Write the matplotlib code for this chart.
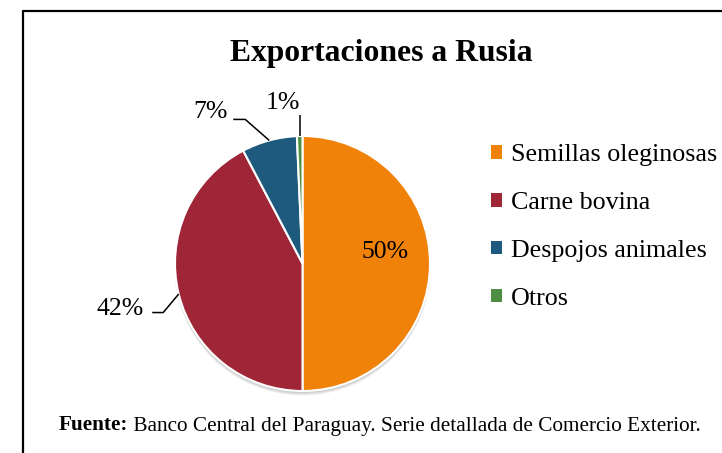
import matplotlib
matplotlib.use('Agg')
import matplotlib.pyplot as plt
from matplotlib.patches import Patch, Circle
import numpy as np

# ---- data ----
categories = ['Semillas oleginosas', 'Carne bovina', 'Despojos animales', 'Otros']
values = [50.0, 42.3, 7.0, 0.7]
pct_labels = ['50%', '42%', '7%', '1%']
colors = ['#F0820A', '#9E2637', '#1D5A7E', '#4E8E42']
title = 'Exportaciones a Rusia'
source_bold = 'Fuente:'
source_text = ' Banco Central del Paraguay. Serie detallada de Comercio Exterior.'

W, H = 722, 453
plt.rcParams['font.family'] = ['Liberation Serif', 'DejaVu Serif']
fig = plt.figure(figsize=(W / 100, H / 100), dpi=100)
ax = fig.add_axes([0, 0, 1, 1])

cx, cy, R = 302.5, H - 263.5, 127.5

# soft shadow beneath the pie
for i in range(4):
    ax.add_patch(Circle((cx, cy - 1.0 - i), R + 0.5, color='black', alpha=0.06,
                        lw=0, zorder=0))

wedges, _ = ax.pie(values, colors=colors, startangle=90, counterclock=False,
                   center=(cx, cy), radius=R,
                   wedgeprops=dict(edgecolor='white', linewidth=1.5))
ax.set_xlim(0, W)
ax.set_ylim(0, H)
ax.set_aspect('equal')
ax.axis('off')

LBL = 18.5
# label styling: (leader offsets from wedge edge, text offset from leader end)
styles = {
    1: dict(path=[(-15.5, -18.5), (-11, 0)], txt=(-8, -2)),
    2: dict(path=[(-24, 21), (-12, 0)], txt=(-6, 1)),
    3: dict(path=[(0, 21)], txt=(0.5, 6)),
}
for i, (w, lab) in enumerate(zip(wedges, pct_labels)):
    mid = np.deg2rad((w.theta1 + w.theta2) / 2)
    if i == 0:
        x = cx + 0.65 * R * np.cos(mid)
        y = cy + 0.65 * R * np.sin(mid) + 11
        ax.text(x, y, lab, ha='center', va='center', fontsize=LBL, color='black',
                zorder=5)
        continue
    ex, ey = cx + R * np.cos(mid), cy + R * np.sin(mid)
    xs, ys = [ex], [ey]
    for dx, dy in styles[i]['path']:
        xs.append(xs[-1] + dx)
        ys.append(ys[-1] + dy)
    ax.plot(xs, ys, color='black', lw=1.1, solid_capstyle='butt', zorder=4)
    tx, ty = styles[i]['txt']
    ax.text(xs[-1] + tx, ys[-1] + ty, lab, ha='right', va='baseline',
            fontsize=LBL, color='black', zorder=5)

# title
ax.text(381.5, H - 61, title, ha='center', va='baseline', fontsize=22.8,
        fontweight='bold', color='black')

# legend
handles = [Patch(facecolor=c, edgecolor='none') for c in colors]
ax.legend(handles, categories, loc='center left',
          bbox_to_anchor=(491 / W, 1 - 227 / H), bbox_transform=fig.transFigure,
          frameon=False, prop={'size': 18.7}, handlelength=0.42, handleheight=0.42,
          handletextpad=0.35, labelspacing=0.99, borderpad=0, borderaxespad=0)

# frame (left and top edges visible)
ax.plot([22.5, 22.5, W + 5], [-5, H - 10.5, H - 10.5], color='black', lw=1.6,
        clip_on=False, zorder=6)

# footer
fig.canvas.draw()
r = fig.canvas.get_renderer()
yb = H - 430.5
t1 = ax.text(0, yb, source_bold, fontweight='bold', fontsize=15.3, va='baseline',
             ha='left')
t2 = ax.text(0, yb, source_text, fontsize=15.3, va='baseline', ha='left')
w1 = t1.get_window_extent(r).width
w2 = t2.get_window_extent(r).width
x0 = 380 - (w1 + w2) / 2
t1.set_x(x0)
t2.set_x(x0 + w1)

fig.savefig('out.png', dpi=100)
